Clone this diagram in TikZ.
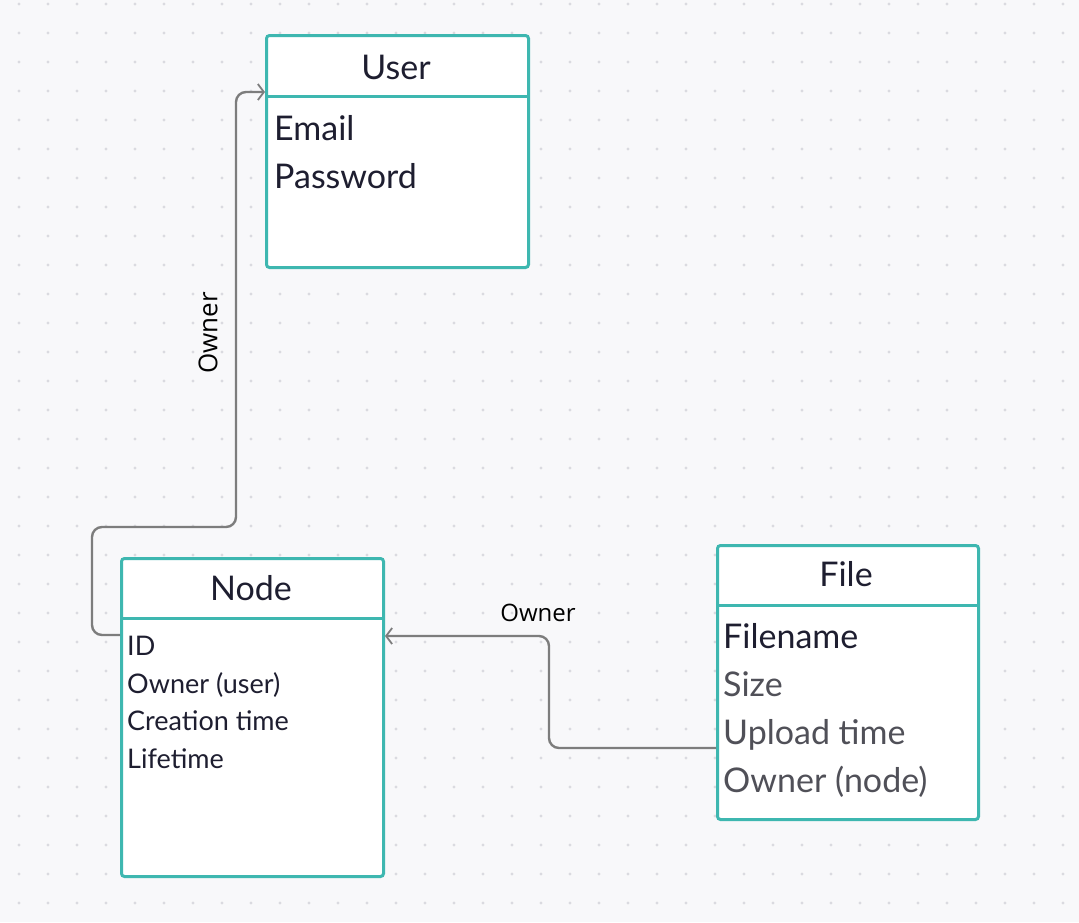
\documentclass[tikz,border=0pt]{standalone}
\usepackage{fontspec}
\setmainfont{Lato}
\newfontfamily\labelfont{Open Sans}
\usetikzlibrary{arrows.meta,calc}
\definecolor{tealc}{RGB}{62,183,176}
\definecolor{bgc}{RGB}{248,248,250}
\definecolor{dotc}{RGB}{218,218,224}
\definecolor{txtc}{RGB}{30,30,48}
\definecolor{grayt}{RGB}{80,80,88}
\definecolor{connc}{RGB}{125,125,125}
\tikzset{
  box/.style={draw=tealc, line width=3pt, fill=white, rounded corners=3pt, inner sep=0pt, anchor=north west},
  divline/.style={draw=tealc, line width=3pt},
  title/.style={anchor=base, inner sep=0pt, text=txtc, font=\fontsize{34}{40}\selectfont},
  bigfield/.style={anchor=base west, inner sep=0pt, text=txtc, font=\fontsize{34}{40}\selectfont},
  smallfield/.style={anchor=base west, inner sep=0pt, text=txtc, font=\fontsize{27}{32}\selectfont},
  conn/.style={draw=connc, line width=2.4pt, rounded corners=10pt},
  arr/.style={-{Straight Barb[length=6pt,width=16pt,line width=1.8pt]}},
  lab/.style={inner sep=0pt, text=black, font=\labelfont\fontsize{24}{28}\selectfont}
}
\begin{document}
\begin{tikzpicture}[x=1pt,y=-1pt]
\fill[bgc] (0,0) rectangle (1079,922);
\useasboundingbox (0,0) rectangle (1079,922);
\foreach \i in {0,...,36} \foreach \j in {0,...,31} \fill[dotc] (19+29*\i,4+29*\j) circle (1.6pt);

% boxes
\node[box, minimum width=262pt, minimum height=232pt] (user) at (265,34) {};
\node[box, minimum width=262pt, minimum height=318pt] (nodebox) at (120,557) {};
\node[box, minimum width=261pt, minimum height=274pt] (file) at (716,544) {};

\draw[divline] ($(user.north west)+(0,62)$) -- ($(user.north east)+(0,62)$);
\draw[divline] ($(nodebox.north west)+(0,61)$) -- ($(nodebox.north east)+(0,61)$);
\draw[divline] ($(file.north west)+(0,61)$) -- ($(file.north east)+(0,61)$);

% titles
\node[title] (usert) at (396,79) {User};
\node[title] (nodet) at (251,600) {Node};
\node[title] (filet) at (846,586) {File};

% fields
\node[bigfield] (email) at (274,140) {Email};
\node[bigfield] (pass) at (274,188) {Password};

\node[smallfield] (id) at (127,655) {ID};
\node[smallfield] (owneru) at (127,693) {Owner (user)};
\node[smallfield] (ctime) at (127,730) {Creation time};
\node[smallfield] (life) at (127,768) {Lifetime};

\node[bigfield] (fname) at (723,648) {Filename};
\node[bigfield, text=grayt] (fsize) at (723,696) {Size};
\node[bigfield, text=grayt] (fup) at (723,744) {Upload time};
\node[bigfield, text=grayt] (fown) at (723,792) {Owner (node)};

% connectors
\coordinate (s1) at ($(nodebox.north west)+(0,78)$);
\coordinate (e1) at ($(user.north west)+(0,58)$);
\draw[conn, arr] (s1) -- (92,635) -- (92,527) -- (236,527) -- (236,92) -- (e1);
\node[lab, rotate=90, font=\labelfont\fontsize{26}{30}\selectfont] (lab1) at (208,333) {Owner};

\coordinate (s2) at ($(file.north west)+(0,204)$);
\coordinate (e2) at ($(nodebox.north east)+(0,79)$);
\draw[conn, arr] (s2) -- (549,748) -- (549,636) -- (e2);
\node[lab, anchor=base] (lab2) at (538,621) {Owner};
\end{tikzpicture}
\end{document}
